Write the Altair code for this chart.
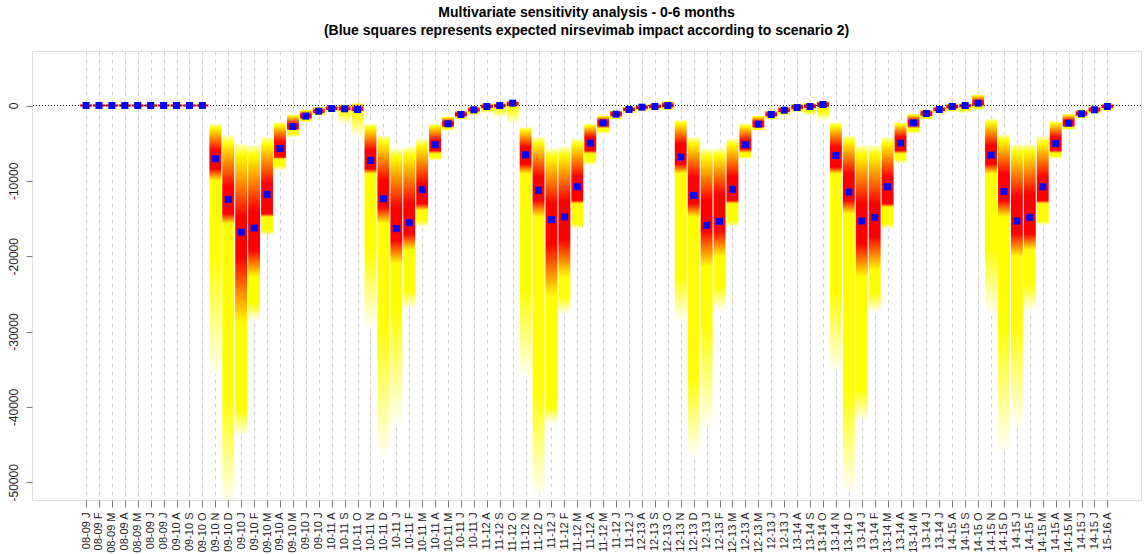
import json
import altair as alt
import pandas as pd

# Month tick labels (season prefix + month initial)
month_labels = [
    "08-09 J", "08-09 F", "08-09 M", "08-09 A", "08-09 M", "08-09 J", "08-09 J",
    "09-10 A", "09-10 S", "09-10 O", "09-10 N", "09-10 D",
    "09-10 J", "09-10 F", "09-10 M", "09-10 A", "09-10 M", "09-10 J", "09-10 J",
    "10-11 A", "10-11 S", "10-11 O", "10-11 N", "10-11 D",
    "10-11 J", "10-11 F", "10-11 M", "10-11 A", "10-11 M", "10-11 J", "10-11 J",
    "11-12 A", "11-12 S", "11-12 O", "11-12 N", "11-12 D",
    "11-12 J", "11-12 F", "11-12 M", "11-12 A", "11-12 M", "11-12 J", "11-12 J",
    "12-13 A", "12-13 S", "12-13 O", "12-13 N", "12-13 D",
    "12-13 J", "12-13 F", "12-13 M", "12-13 A", "12-13 M", "12-13 J", "12-13 J",
    "13-14 A", "13-14 S", "13-14 O", "13-14 N", "13-14 D",
    "13-14 J", "13-14 F", "13-14 M", "13-14 A", "13-14 M", "13-14 J", "13-14 J",
    "14-15 A", "14-15 S", "14-15 O", "14-15 N", "14-15 D",
    "14-15 J", "14-15 F", "14-15 M", "14-15 A", "14-15 M", "14-15 J", "14-15 J",
    "15-16 A",
]

# Expected impact (scenario 2) - blue squares
impact = [
    0, 0, 0, 0, 0, 0, 0, 0, 0, 0,
    -7070, -12460, -16790, -16250, -11790, -5700, -2780, -1410, -750, -400, -440, -530,
    -7290, -12370, -16340, -15550, -11180, -5210, -2430, -1190, -570, -130, 0, 310,
    -6540, -11260, -15150, -14800, -10780, -4990, -2300, -1150, -530, -220, -130, 0,
    -6850, -11930, -15900, -15370, -11130, -5210, -2470, -1190, -620, -270, -130, 130,
    -6630, -11480, -15330, -14840, -10780, -4990, -2300, -1060, -530, -130, 0, 310,
    -6580, -11400, -15330, -14840, -10780, -5040, -2340, -1100, -570, -130,
]

# Sensitivity band per month: upper end of the simulated range
band_top = [
    150, 150, 150, 150, 150, 150, 150, 150, 150, 150,
    -2430, -3980, -5080, -5300, -4200, -2210, -1190, -570, -220, 0, 90, 310,
    -2430, -3980, -5740, -5520, -4420, -2430, -1460, -660, -130, 220, 310, 570,
    -2870, -4200, -5740, -5520, -4420, -2430, -1330, -660, -130, 130, 220, 570,
    -1900, -4200, -5740, -5740, -4420, -2430, -1330, -660, -130, 220, 310, 570,
    -2210, -3980, -5300, -5300, -4200, -2210, -1100, -570, -130, 220, 310, 1460,
    -1770, -3840, -5170, -5170, -4110, -2080, -1100, -570, -130, 220,
]

# Densest part of the range (red core): upper and lower edge
red_from = [
    150, 150, 150, 150, 150, 150, 150, 150, 150, 150,
    -5960, -10820, -14800, -13910, -10380, -4860, -2430, -1200, -600, -250, -300, -350,
    -5960, -9940, -13470, -13030, -10380, -4640, -2200, -1000, -450, 0, 100, 450,
    -5520, -9500, -13030, -12590, -9500, -4200, -2000, -950, -400, -100, 0, 200,
    -5080, -9500, -12590, -11710, -9500, -4640, -2200, -1000, -450, -100, 50, 350,
    -5520, -9060, -13030, -13030, -9500, -4200, -2000, -850, -400, 0, 100, 500,
    -5300, -9060, -12150, -11710, -9500, -4200, -2000, -900, -400, 0,
]
red_to = [
    -150, -150, -150, -150, -150, -150, -150, -150, -150, -150,
    -8390, -14360, -20100, -19210, -14360, -6850, -3090, -1650, -950, -550, -600, -700,
    -8390, -13470, -17890, -17010, -13030, -5960, -2700, -1400, -750, -300, -200, 50,
    -7730, -12590, -18330, -17890, -12590, -5960, -2700, -1350, -700, -400, -300, -200,
    -7730, -13030, -16560, -16560, -12590, -5740, -2800, -1400, -800, -450, -300, -100,
    -8170, -12590, -18330, -17450, -13030, -5960, -2700, -1300, -700, -350, -200, 100,
    -7730, -12590, -17010, -17010, -12590, -5960, -2700, -1300, -750, -300,
]

# Solid yellow stretch below the core, then the pale tail down to band_bottom
yellow_from = [
    -150, -150, -150, -150, -150, -150, -150, -150, -150, -150,
    -9940, -15680, -28930, -22750, -14800, -7070, -3300, -1800, -1050, -650, -700, -800,
    -9060, -15680, -20980, -19210, -13910, -6400, -2900, -1500, -850, -400, -300, -100,
    -9060, -14800, -25400, -22750, -13030, -6400, -3000, -1500, -800, -500, -400, -300,
    -9060, -14800, -21420, -20100, -13030, -6300, -3000, -1500, -900, -550, -400, -250,
    -9060, -14360, -22750, -21860, -13470, -6400, -3000, -1450, -800, -450, -300, -100,
    -9060, -14800, -20100, -19210, -13030, -6300, -2900, -1400, -850, -400,
]
yellow_to = [
    -150, -150, -150, -150, -150, -150, -150, -150, -150, -150,
    -19660, -38650, -40420, -26280, -16560, -7950, -3800, -2000, -1200, -750, -900, -1100,
    -19210, -28930, -26720, -24510, -15240, -6900, -3100, -1700, -1000, -550, -600, -400,
    -24510, -37770, -39970, -25400, -15680, -7300, -3400, -1700, -900, -600, -500, -450,
    -22750, -35560, -28930, -24070, -15240, -6800, -3200, -1700, -1100, -700, -800, -800,
    -24510, -37770, -37770, -24960, -15680, -7100, -3400, -1700, -950, -650, -600, -300,
    -18770, -28930, -28930, -23630, -15240, -6700, -3100, -1600, -950, -550,
]
band_bottom = [
    -150, -150, -150, -150, -150, -150, -150, -150, -150, -150,
    -35560, -53000, -43730, -28490, -17230, -8610, -4200, -2210, -1330, -880, -2430, -4200,
    -29370, -46600, -42180, -26940, -16120, -7290, -3400, -1900, -1330, -1020, -1550, -2430,
    -36000, -51460, -42180, -27610, -16340, -7950, -3750, -1900, -1020, -750, -570, -660,
    -28490, -46380, -42620, -27170, -16120, -7070, -3310, -1900, -1330, -880, -1330, -1990,
    -35340, -51020, -41740, -27390, -16340, -7730, -3750, -1900, -1100, -880, -1020, -660,
    -27610, -45720, -42400, -27170, -15900, -7070, -3220, -1770, -1020, -750,
]

y_ticks = [0, -10000, -20000, -30000, -40000, -50000]

FONT = "Liberation Sans"
GREY = "#7f7f7f"
HALF_W = 0.46

df = pd.DataFrame({
    "i": list(range(len(month_labels))),
    "label": month_labels,
    "impact": impact,
    "top": band_top,
    "bottom": band_bottom,
})

x_scale = alt.Scale(domain=[-4.18, 81.6], nice=False, zero=False)
y_scale = alt.Scale(domain=[-52346, 7232], nice=False, zero=False)

label_expr = json.dumps(month_labels) + "[datum.value]"

x_axis = alt.Axis(
    values=list(range(len(month_labels))), labelExpr=label_expr, title=None,
    labelAngle=270, labelAlign="right", labelBaseline="middle",
    labelFont=FONT, labelFontSize=11, labelColor="#222222", labelPadding=5,
    labelOverlap=False, labelFlush=False,
    tickSize=7, tickColor=GREY, domain=False,
    grid=True, gridColor="#d3d3d3", gridDash=[4, 4], gridWidth=1,
)
y_axis = alt.Axis(
    values=y_ticks, title=None,
    labelExpr="datum.value == 0 ? '0' : '-' + format(-datum.value, 'd')",
    labelAngle=270, labelAlign="center", labelBaseline="bottom",
    labelFont=FONT, labelFontSize=12, labelColor="#222222", labelPadding=6,
    tickSize=6, tickColor=GREY, domain=False, grid=False,
)


def heat_fill(k):
    """Vertical heat-colour gradient for the band of month k."""
    top, bot = band_top[k], band_bottom[k]
    span = float(top - bot)

    def off(v):
        return min(max((top - v) / span, 0.0), 1.0)

    glow = top + 0.15 * (red_from[k] - top)
    raw = [
        (0.0, "#ffffc8"),
        (off(glow), "#ffff00"),
        (off(red_from[k]), "#ff0000"),
        (off(red_to[k]), "#ff0000"),
        (off(yellow_from[k]), "#ffff00"),
        (off(yellow_to[k]), "#ffff00"),
        (1.0, "#fffff2"),
    ]
    stops, last = [], 0.0
    for o, c in raw:
        last = max(last, o)
        stops.append(alt.GradientStop(offset=round(last, 4), color=c))
    return alt.Gradient(gradient="linear", x1=0, y1=0, x2=0, y2=1, stops=stops)


base = alt.Chart(df)

frame = base.mark_point(opacity=0).encode(
    x=alt.X("i:Q", scale=x_scale, axis=x_axis),
    y=alt.Y("impact:Q", scale=y_scale, axis=y_axis),
)

bands = []
for k in range(len(month_labels)):
    bands.append(
        base.transform_filter(alt.datum.i == k)
        .transform_calculate(xl=f"datum.i - {HALF_W}", xr=f"datum.i + {HALF_W}")
        .mark_bar(clip=True, fill=heat_fill(k), strokeWidth=0)
        .encode(
            x=alt.X("xl:Q", scale=x_scale, axis=x_axis),
            x2="xr:Q",
            y=alt.Y("top:Q", scale=y_scale, axis=y_axis),
            y2="bottom:Q",
        )
    )

zero_line = base.mark_rule(color="#111111", strokeDash=[1, 2], strokeWidth=1).encode(
    y=alt.Y(datum=0, scale=y_scale, axis=y_axis)
)

squares = base.mark_square(size=49, color="#0000ff", opacity=1).encode(
    x=alt.X("i:Q", scale=x_scale, axis=x_axis),
    y=alt.Y("impact:Q", scale=y_scale, axis=y_axis),
)

chart = alt.layer(frame, *bands, zero_line, squares).properties(
    width=1109,
    height=449,
    padding={"left": 32, "top": 51, "right": 7, "bottom": 54},
    autosize=alt.AutoSizeParams(type="none"),
    title=alt.TitleParams(
        text=[
            "Multivariate sensitivity analysis - 0-6 months",
            "(Blue squares represents expected nirsevimab impact according to scenario 2)",
        ],
        font=FONT, fontSize=14, fontWeight="bold", color="black",
        anchor="middle", lineHeight=18, offset=13,
    ),
).configure_view(stroke=GREY, strokeWidth=1).configure(background="white")

chart.save("out.html", embed_options={"renderer": "svg", "actions": False})
